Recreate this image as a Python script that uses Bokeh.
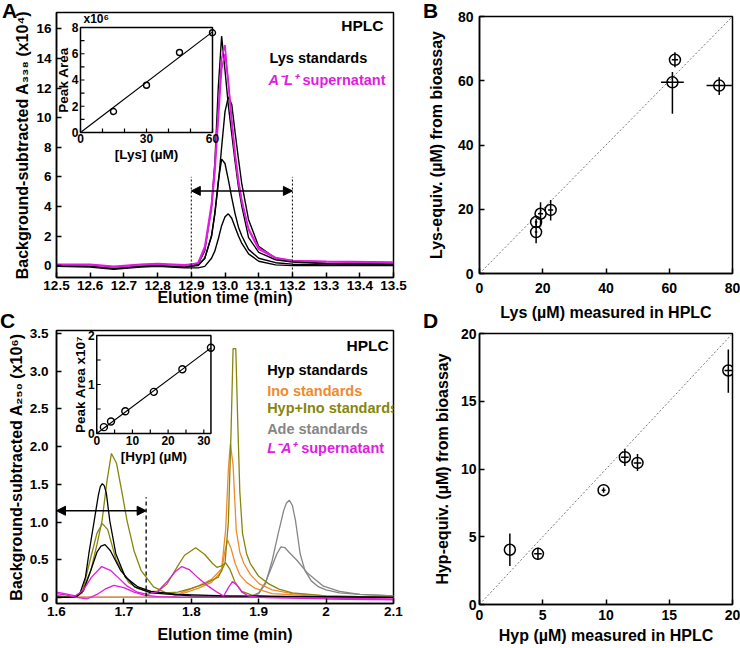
import math
from bokeh.plotting import figure
from bokeh.layouts import row, column
from bokeh.models import Range1d, FixedTicker, Arrow, NormalHead, Div
from bokeh.core.properties import value
from bokeh.embed import file_html
from bokeh.resources import INLINE

FONT = "Liberation Sans"
MAGENTA = "#E01CE0"
ORANGE = "#F08A2C"
OLIVE = "#86860C"
GRAY = "#868686"

# ---------------- Panel A : Lys HPLC chromatograms ----------------
a_time = [12.5, 12.6, 12.67, 12.75, 12.8, 12.88, 12.92, 12.94, 12.96, 12.97, 12.98, 12.99,
          13.0, 13.01, 13.02, 13.03, 13.04, 13.05, 13.07, 13.1, 13.15, 13.2, 13.3, 13.5]
a_lys_std1 = [0.0, -0.05, -0.2, -0.05, 0.0, -0.1, 0.1, 1.0, 4.0, 7.0, 12.0, 15.5,
              13.2, 10.8, 8.9, 7.0, 5.3, 4.0, 1.9, 0.9, 0.4, 0.25, 0.15, 0.1]
a_lys_std2 = [0.0, -0.05, -0.2, -0.05, 0.0, -0.1, 0.0, 0.5, 2.0, 3.5, 5.5, 8.0,
              10.4, 11.4, 10.9, 9.0, 7.2, 5.5, 3.1, 1.3, 0.5, 0.3, 0.15, 0.1]
a_lys_std3 = [0.0, -0.05, -0.2, -0.05, 0.0, -0.1, 0.05, 0.5, 2.0, 3.6, 5.7, 7.2,
              6.9, 5.8, 4.6, 3.5, 2.6, 2.0, 1.1, 0.5, 0.2, 0.1, 0.05, 0.05]
a_lys_std4 = [-0.05, -0.1, -0.25, -0.1, -0.05, -0.15, -0.15, -0.05, 0.5, 1.0, 1.8, 2.7,
              3.3, 3.5, 3.2, 2.6, 2.0, 1.5, 0.8, 0.3, 0.05, 0.0, 0.0, 0.0]
a_sup1 = [0.05, 0.05, -0.1, 0.05, 0.1, 0.0, 0.2, 1.3, 4.2, 6.8, 10.5, 14.0,
          14.9, 12.3, 9.6, 7.4, 5.6, 4.3, 2.4, 1.1, 0.5, 0.35, 0.25, 0.2]
a_sup2 = [0.1, 0.1, -0.05, 0.1, 0.15, 0.05, 0.15, 1.1, 3.8, 6.3, 9.8, 13.3,
          14.3, 12.4, 9.9, 7.6, 5.8, 4.4, 2.5, 1.2, 0.55, 0.35, 0.3, 0.25]
a_window = [12.9, 13.2]
a_xticks = [12.5, 12.6, 12.7, 12.8, 12.9, 13.0, 13.1, 13.2, 13.3, 13.4, 13.5]
a_xlabels = ["12.5", "12.6", "12.7", "12.8", "12.9", "13.0", "13.1", "13.2", "13.3", "13.4", "13.5"]
a_yticks = [0, 2, 4, 6, 8, 10, 12, 14, 16]
a_ylabels = ["0", "2", "4", "6", "8", "10", "12", "14", "16"]

# Panel A inset: calibration
a_in_conc = [15, 30, 45, 60]
a_in_area = [1.6, 3.6, 6.1, 7.6]
a_in_xticks = [0, 10, 20, 30, 40, 50, 60]
a_in_xlab_vals = [0, 30, 60]
a_in_xlabels = ["0", "30", "60"]
a_in_yticks = [0, 1, 2, 3, 4, 5, 6, 7, 8]
a_in_ylab_vals = [0, 2, 4, 6, 8]
a_in_ylabels = ["0", "2", "4", "6", "8"]

# ---------------- Panel B : Lys bioassay vs HPLC ----------------
b_x = [17.9, 17.9, 19.3, 22.5, 61.8, 61.0, 75.8]
b_y = [16.0, 12.9, 18.6, 19.8, 66.5, 59.5, 58.5]
b_xerr = [0.4, 0.4, 0.8, 0.8, 1.0, 3.6, 4.0]
b_yerr_lo = [1.0, 3.5, 4.0, 3.3, 2.3, 9.8, 2.9]
b_yerr_hi = [1.0, 3.5, 3.6, 3.1, 2.4, 3.2, 2.6]
b_ticks = [0, 20, 40, 60, 80]
b_labels = ["0", "20", "40", "60", "80"]

# ---------------- Panel C : Hyp HPLC chromatograms ----------------
c_hyp1_t = [1.6, 1.625, 1.635, 1.643, 1.648, 1.656, 1.662, 1.665, 1.668, 1.671, 1.674, 1.679, 1.688, 1.702,
            1.721, 1.74, 1.78, 1.85, 2.1]
c_hyp1_v = [0.0, 0.0, 0.06, 0.27, 0.58, 1.02, 1.35, 1.47, 1.51, 1.48, 1.38, 1.02, 0.58, 0.27,
            0.14, 0.08, 0.04, 0.02, 0.0]
c_hyp2_t = [1.6, 1.628, 1.64, 1.651, 1.66, 1.666, 1.672, 1.68, 1.695, 1.716, 1.74, 1.8, 2.1]
c_hyp2_v = [0.0, 0.0, 0.09, 0.36, 0.6, 0.68, 0.70, 0.62, 0.36, 0.14, 0.06, 0.02, 0.0]
c_ino1_t = [1.6, 1.77, 1.79, 1.81, 1.83, 1.845, 1.851, 1.855, 1.858, 1.862, 1.8667, 1.872, 1.878, 1.888,
            1.901, 1.92, 1.95, 2.0, 2.1]
c_ino1_v = [0.0, 0.0, 0.08, 0.15, 0.24, 0.38, 0.9, 1.7, 2.04, 1.75, 0.89, 0.6, 0.45, 0.3,
            0.18, 0.1, 0.05, 0.02, 0.0]
c_ino2_t = [1.6, 1.77, 1.79, 1.81, 1.83, 1.845, 1.85, 1.854, 1.859, 1.865, 1.872, 1.882, 1.895, 1.92, 2.0, 2.1]
c_ino2_v = [0.0, 0.0, 0.06, 0.12, 0.2, 0.35, 0.62, 0.76, 0.65, 0.45, 0.3, 0.2, 0.12, 0.05, 0.01, 0.0]
c_mix1_t = [1.6, 1.628, 1.638, 1.651, 1.66, 1.6676, 1.675, 1.6815, 1.689, 1.697, 1.7046, 1.715, 1.7254, 1.744,
            1.7625, 1.78, 1.8, 1.82, 1.84, 1.85, 1.855, 1.859, 1.862, 1.866, 1.869, 1.872, 1.876, 1.882,
            1.8875, 1.9, 1.915, 1.93, 1.95, 2.0, 2.1]
c_mix1_v = [0.02, 0.0, 0.08, 0.36, 0.7, 1.02, 1.55, 1.91, 1.78, 1.4, 1.02, 0.62, 0.36, 0.14,
            0.06, 0.07, 0.12, 0.18, 0.27, 0.45, 1.0, 2.2, 3.3, 3.3, 2.3, 1.4, 0.85, 0.58,
            0.45, 0.28, 0.18, 0.11, 0.06, 0.02, 0.0]
c_mix2_t = [1.6, 1.628, 1.638, 1.65, 1.66, 1.668, 1.676, 1.6884, 1.707, 1.72, 1.735, 1.75, 1.764, 1.78,
            1.79, 1.8065, 1.82, 1.8315, 1.838, 1.845, 1.851, 1.857, 1.865, 1.875, 1.89, 1.92, 2.1]
c_mix2_v = [0.02, 0.0, 0.06, 0.5, 0.85, 0.98, 0.9, 0.5, 0.2, 0.12, 0.08, 0.08, 0.18, 0.42,
            0.56, 0.66, 0.57, 0.45, 0.4, 0.42, 0.46, 0.38, 0.2, 0.08, 0.03, 0.01, 0.0]
c_ade1_t = [1.6, 1.885, 1.9, 1.91, 1.92, 1.929, 1.937, 1.941, 1.9454, 1.95, 1.9546, 1.9615, 1.9685, 1.978,
            1.989, 2.0, 2.02, 2.05, 2.1]
c_ade1_v = [0.0, 0.0, 0.05, 0.18, 0.49, 0.85, 1.15, 1.25, 1.29, 1.22, 1.02, 0.58, 0.36, 0.22,
            0.14, 0.1, 0.06, 0.04, 0.02]
c_ade2_t = [1.6, 1.885, 1.9, 1.91, 1.92, 1.927, 1.933, 1.939, 1.945, 1.957, 1.9727, 1.996, 2.02, 2.05, 2.1]
c_ade2_v = [0.0, 0.0, 0.06, 0.2, 0.42, 0.58, 0.67, 0.66, 0.6, 0.49, 0.32, 0.15, 0.08, 0.04, 0.02]
c_sup1_t = [1.6, 1.612, 1.628, 1.64, 1.652, 1.667, 1.68, 1.692, 1.705, 1.72, 1.735, 1.75, 1.765, 1.776,
            1.786, 1.797, 1.81, 1.825, 1.84, 1.848, 1.855, 1.861, 1.867, 1.875, 1.885, 1.9, 2.0, 2.1]
c_sup1_v = [0.07, 0.05, 0.02, 0.1, 0.27, 0.41, 0.36, 0.26, 0.15, 0.07, 0.04, 0.08, 0.22, 0.34,
            0.41, 0.37, 0.26, 0.15, 0.06, 0.02, 0.13, 0.21, 0.17, 0.07, 0.02, 0.0, -0.02, -0.03]
c_sup2_t = [1.6, 1.615, 1.63, 1.645, 1.66, 1.672, 1.685, 1.70, 1.715, 1.73, 1.75, 1.8, 1.9, 2.0, 2.1]
c_sup2_v = [0.05, 0.03, 0.0, -0.02, 0.04, 0.11, 0.16, 0.13, 0.07, 0.03, 0.01, 0.0, 0.0, -0.01, -0.02]
c_window_end = 1.733
c_xticks = [1.6, 1.7, 1.8, 1.9, 2.0, 2.1]
c_xlabels = ["1.6", "1.7", "1.8", "1.9", "2", "2.1"]
c_yticks = [0, 0.5, 1.0, 1.5, 2.0, 2.5, 3.0, 3.5]
c_ylabels = ["0", "0.5", "1.0", "1.5", "2.0", "2.5", "3.0", "3.5"]

# Panel C inset: calibration
c_in_conc = [2, 4, 8, 16, 24, 32]
c_in_area = [0.13, 0.245, 0.455, 0.85, 1.31, 1.75]
c_in_xticks = [0, 5, 10, 15, 20, 25, 30]
c_in_xlab_vals = [0, 10, 20, 30]
c_in_xlabels = ["0", "10", "20", "30"]
c_in_yticks = [0, 0.5, 1.0, 1.5, 2.0]
c_in_ylab_vals = [0, 1, 2]
c_in_ylabels = ["0", "1", "2"]

# ---------------- Panel D : Hyp bioassay vs HPLC ----------------
d_x = [2.4, 4.62, 9.81, 11.49, 12.49, 19.67]
d_y = [4.04, 3.74, 8.44, 10.87, 10.45, 17.27]
d_xerr = [0.0, 0.3, 0.15, 0.3, 0.3, 0.3]
d_yerr_lo = [1.2, 0.45, 0.2, 0.65, 0.6, 1.65]
d_yerr_hi = [1.2, 0.45, 0.2, 0.6, 0.65, 1.55]
d_ticks = [0, 5, 10, 15, 20]
d_labels = ["0", "5", "10", "15", "20"]

panel_letters = ["A", "B", "C", "D"]


def make_fig(width, height, xr, yr, borders):
    l, r, t, b = borders
    p = figure(width=width, height=height, x_range=Range1d(*xr), y_range=Range1d(*yr),
               output_backend="svg", toolbar_location=None,
               min_border_left=l, min_border_right=r, min_border_top=t, min_border_bottom=b)
    p.grid.visible = False
    p.outline_line_color = "black"
    p.outline_line_width = 1.5
    p.background_fill_color = "white"
    p.border_fill_color = "white"
    return p


def style_axis(ax, ticks, labels, title, tick_standoff, title_standoff, tick_size="13.5px", title_size="16px"):
    ax.ticker = FixedTicker(ticks=ticks)
    ax.major_label_overrides = {t: s for t, s in zip(ticks, labels)}
    ax.axis_label = title
    ax.major_tick_in = 5
    ax.major_tick_out = 0
    ax.minor_tick_line_color = None
    ax.major_tick_line_width = 1.5
    ax.axis_line_width = 1.5
    ax.major_label_standoff = tick_standoff
    ax.axis_label_standoff = title_standoff
    ax.major_label_text_font = FONT
    ax.major_label_text_font_style = "bold"
    ax.major_label_text_font_size = tick_size
    ax.major_label_text_color = "black"
    ax.axis_label_text_font = FONT
    ax.axis_label_text_font_style = "bold"
    ax.axis_label_text_font_size = title_size
    ax.axis_label_text_color = "black"


def add_text(p, x, y, s, color="black", size="14.5px", align="left", baseline="middle", style="bold", **kw):
    p.text(x=[x], y=[y], text=[s], text_color=color, text_font=value(FONT), text_font_style=style,
           text_font_size=size, text_align=align, text_baseline=baseline, **kw)


def panel_div(s, left, top):
    return Div(text=s, width=22, height=24,
               styles={"position": "absolute", "left": f"{left}px", "top": f"{top}px",
                       "font-family": FONT, "font-weight": "bold", "font-size": "21px",
                       "line-height": "21px", "color": "black", "z-index": "10",
                       "margin": "0", "padding": "0"})


def add_inset(p, name, frac, xlim, ylim, xticks, xlab_vals, xlabels, yticks, ylab_vals, ylabels,
              xs, ys, xtitle, ytitle, mult, msize):
    fx0, fx1, fy0, fy1 = frac
    sx = (xlim[1] - xlim[0]) / (fx1 - fx0)
    sy = (ylim[1] - ylim[0]) / (fy1 - fy0)
    xs0 = xlim[0] - fx0 * sx
    ys0 = ylim[0] - fy0 * sy
    p.extra_x_ranges[name + "x"] = Range1d(xs0, xs0 + sx)
    p.extra_y_ranges[name + "y"] = Range1d(ys0, ys0 + sy)
    kw = dict(x_range_name=name + "x", y_range_name=name + "y")
    p.quad(left=[xlim[0]], right=[xlim[1]], bottom=[ylim[0]], top=[ylim[1]],
           fill_color="white", line_color="black", line_width=1.5, **kw)
    p.ray(x=xticks, y=[ylim[0]] * len(xticks), length=4, angle=math.pi / 2, length_units="screen",
          line_color="black", line_width=1.2, **kw)
    p.ray(x=[xlim[0]] * len(yticks), y=yticks, length=4, angle=0, length_units="screen",
          line_color="black", line_width=1.2, **kw)
    p.text(x=xlab_vals, y=[ylim[0]] * len(xlab_vals), text=xlabels, text_font=value(FONT),
           text_font_style="bold", text_font_size="12px", text_align="center", text_baseline="top",
           y_offset=2, text_color="black", **kw)
    p.text(x=[xlim[0]] * len(ylab_vals), y=ylab_vals, text=ylabels, text_font=value(FONT),
           text_font_style="bold", text_font_size="12px", text_align="right", text_baseline="middle",
           x_offset=-2, text_color="black", **kw)
    slope = sum(a * b for a, b in zip(xs, ys)) / sum(a * a for a in xs)
    p.line(x=[xlim[0], xlim[1]], y=[slope * xlim[0], slope * xlim[1]], line_color="black", line_width=1.2, **kw)
    p.scatter(x=xs, y=ys, marker="circle", size=msize, fill_color=None, line_color="black", line_width=1.4, **kw)
    p.text(x=[(xlim[0] + xlim[1]) / 2], y=[ylim[0]], text=[xtitle], text_font=value(FONT),
           text_font_style="bold", text_font_size="13.5px", text_align="center", text_baseline="top",
           y_offset=15, text_color="black", **kw)
    p.text(x=[xlim[0]], y=[(ylim[0] + ylim[1]) / 2], text=[ytitle], text_font=value(FONT),
           text_font_style="bold", text_font_size="13.5px", text_align="center", text_baseline="bottom",
           angle=math.pi / 2, x_offset=-9, text_color="black", **kw)
    if mult:
        p.text(x=[xlim[0]], y=[ylim[1]], text=[mult], text_font=value(FONT),
               text_font_style="bold", text_font_size="12px", text_align="left", text_baseline="bottom",
               x_offset=3, y_offset=-1, text_color="black", **kw)


# ================= Panel A =================
pa = make_fig(424, 316, (12.5, 13.5), (-0.8, 17.1), (56, 31, 12, 39))
style_axis(pa.xaxis[0], a_xticks, a_xlabels, "Elution time (min)", 3, -4)
style_axis(pa.yaxis[0], a_yticks, a_ylabels, "Background-subtracted A\u2083\u2083\u2088 (x10\u2074)", 5, 2)
for s in [a_lys_std1, a_lys_std2, a_lys_std3, a_lys_std4]:
    pa.line(a_time, s, line_color="black", line_width=1.4)
for s in [a_sup2, a_sup1]:
    pa.line(a_time, s, line_color=MAGENTA, line_width=1.6)
pa.segment(x0=a_window, y0=[-0.8, -0.8], x1=a_window, y1=[6.0, 6.0], line_color="black",
           line_width=1, line_dash="2 2")
pa.add_layout(Arrow(x_start=a_window[0], x_end=a_window[1], y_start=5.05, y_end=5.05, line_width=1.5,
                    start=NormalHead(size=9, fill_color="black", line_color="black"),
                    end=NormalHead(size=9, fill_color="black", line_color="black")))
add_inset(pa, "ia", (0.0712, 0.4629, 0.5472, 0.9434), (0, 60), (0, 8),
          a_in_xticks, a_in_xlab_vals, a_in_xlabels, a_in_yticks, a_in_ylab_vals, a_in_ylabels,
          a_in_conc, a_in_area, "[Lys] (\u00b5M)", "Peak Area", "x10\u2076", 6)
add_text(pa, 13.47, 16.23, "HPLC", size="15.5px", align="right")
add_text(pa, 13.132, 14.06, "Lys standards")
add_text(pa, 13.129, 12.51, "A\u207bL\u207a", color=MAGENTA, style="bold italic")
add_text(pa, 13.129, 12.51, "supernatant", color=MAGENTA, x_offset=34)

# ================= Panel B =================
pb = make_fig(316, 326, (0, 80), (0, 80), (55, 8, 16, 53))
style_axis(pb.xaxis[0], b_ticks, b_labels, "Lys (\u00b5M) measured in HPLC", 9, 8, tick_size="14px")
style_axis(pb.yaxis[0], b_ticks, b_labels, "Lys-equiv. (\u00b5M) from bioassay", 6, 10, tick_size="14px")
pb.line(x=[b_ticks[0], b_ticks[-1]], y=[b_ticks[0], b_ticks[-1]], line_color="#777777", line_width=1,
        line_dash="2 2")
pb.segment(x0=[x - e for x, e in zip(b_x, b_xerr)], y0=b_y, x1=[x + e for x, e in zip(b_x, b_xerr)], y1=b_y,
           line_color="black", line_width=1.5)
pb.segment(x0=b_x, y0=[y - e for y, e in zip(b_y, b_yerr_lo)], x1=b_x, y1=[y + e for y, e in zip(b_y, b_yerr_hi)],
           line_color="black", line_width=1.5)
pb.scatter(b_x, b_y, marker="circle", size=11, fill_color=None, line_color="black", line_width=1.5)

# ================= Panel C =================
pc = make_fig(424, 332, (1.6, 2.1), (-0.08, 3.54), (53, 11, 14, 45))
style_axis(pc.xaxis[0], c_xticks, c_xlabels, "Elution time (min)", 3, 7)
style_axis(pc.yaxis[0], c_yticks, c_ylabels, "Background-subtracted A\u2082\u2085\u2080 (x10\u2076)", 8, 2)
pc.line(c_ade1_t, c_ade1_v, line_color=GRAY, line_width=1.3)
pc.line(c_ade2_t, c_ade2_v, line_color=GRAY, line_width=1.3)
pc.line(c_ino1_t, c_ino1_v, line_color=ORANGE, line_width=1.3)
pc.line(c_ino2_t, c_ino2_v, line_color=ORANGE, line_width=1.3)
pc.line(c_mix1_t, c_mix1_v, line_color=OLIVE, line_width=1.3)
pc.line(c_mix2_t, c_mix2_v, line_color=OLIVE, line_width=1.3)
pc.line(c_hyp1_t, c_hyp1_v, line_color="black", line_width=1.3)
pc.line(c_hyp2_t, c_hyp2_v, line_color="black", line_width=1.3)
pc.line(c_sup1_t, c_sup1_v, line_color=MAGENTA, line_width=1.3)
pc.line(c_sup2_t, c_sup2_v, line_color=MAGENTA, line_width=1.3)
pc.segment(x0=[c_window_end], y0=[-0.08], x1=[c_window_end], y1=[1.33], line_color="black",
           line_width=1.3, line_dash="4 3")
pc.add_layout(Arrow(x_start=c_xticks[0], x_end=c_window_end, y_start=1.15, y_end=1.15, line_width=1.5,
                    start=NormalHead(size=9, fill_color="black", line_color="black"),
                    end=NormalHead(size=9, fill_color="black", line_color="black")))
add_inset(pc, "ic", (0.1194, 0.4583, 0.6227, 0.9817), (0, 32), (0, 2),
          c_in_xticks, c_in_xlab_vals, c_in_xlabels, c_in_yticks, c_in_ylab_vals, c_in_ylabels,
          c_in_conc, c_in_area, "[Hyp] (\u00b5M)", "Peak Area x10\u2077", None, 7)
add_text(pc, 2.093, 3.34, "HPLC", size="15.5px", align="right")
add_text(pc, 1.9125, 3.01, "Hyp standards")
add_text(pc, 1.9125, 2.74, "Ino standards", color=ORANGE)
add_text(pc, 1.9125, 2.51, "Hyp+Ino standards", color=OLIVE)
add_text(pc, 1.9125, 2.24, "Ade standards", color=GRAY)
add_text(pc, 1.9125, 1.98, "L\u207bA\u207a", color=MAGENTA, style="bold italic")
add_text(pc, 1.9125, 1.98, "supernatant", color=MAGENTA, x_offset=34)

# ================= Panel D =================
pd_ = make_fig(316, 322, (0, 20), (0, 20), (48, 7, 7, 44))
style_axis(pd_.xaxis[0], d_ticks, d_labels, "Hyp (\u00b5M) measured in HPLC", 5, 4, tick_size="14px")
style_axis(pd_.yaxis[0], d_ticks, d_labels, "Hyp-equiv. (\u00b5M) from bioassay", 3, 7, tick_size="14px")
pd_.line(x=[d_ticks[0], d_ticks[-1]], y=[d_ticks[0], d_ticks[-1]], line_color="#777777", line_width=1,
         line_dash="2 2")
pd_.segment(x0=[x - e for x, e in zip(d_x, d_xerr)], y0=d_y, x1=[x + e for x, e in zip(d_x, d_xerr)], y1=d_y,
            line_color="black", line_width=1.5)
pd_.segment(x0=d_x, y0=[y - e for y, e in zip(d_y, d_yerr_lo)], x1=d_x, y1=[y + e for y, e in zip(d_y, d_yerr_hi)],
            line_color="black", line_width=1.5)
pd_.scatter(d_x, d_y, marker="circle", size=11, fill_color=None, line_color="black", line_width=1.5)

grid = row(column(pa, pc), column(pb, pd_))
labels = [panel_div(panel_letters[0], 2, 0), panel_div(panel_letters[1], 423, 0),
          panel_div(panel_letters[2], 0, 310), panel_div(panel_letters[3], 423, 310)]
layout = column(grid, *labels)
open("out.html", "w").write(file_html(layout, INLINE))
